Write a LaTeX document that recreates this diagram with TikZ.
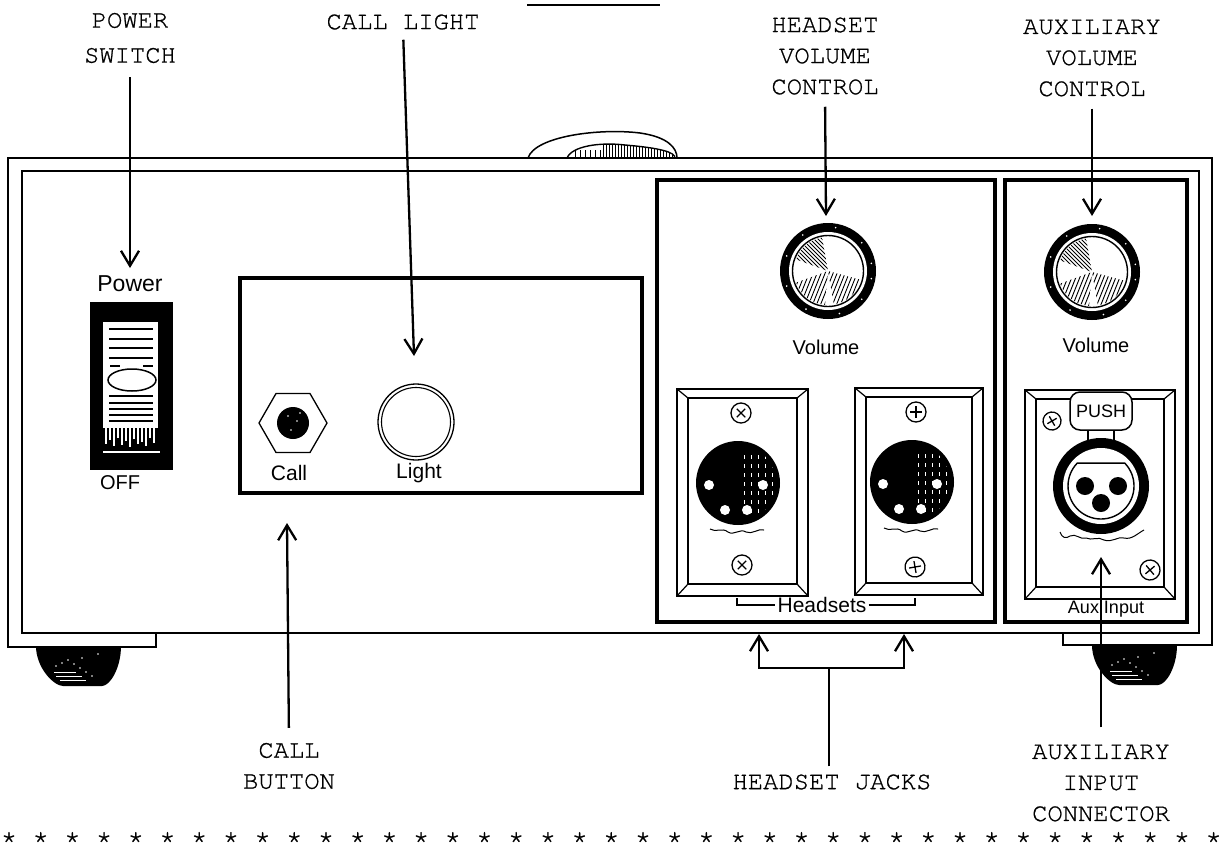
\documentclass[tikz,border=0pt]{standalone}
\usepackage{fontspec}
\newfontfamily\typew[FakeBold=0.8]{TeX Gyre Cursor}
\newfontfamily\handf{Liberation Sans}
\usetikzlibrary{arrows.meta,calc}
\tikzset{
  lbl/.style={font=\typew\fontsize{25.5}{31}\selectfont, align=center, inner sep=0pt},
  hand/.style={font=\handf\fontsize{#1}{#1}\selectfont, inner sep=0pt},
  hand/.default=19,
  arr/.style={line width=2.3pt, -{Straight Barb[length=15pt,width=18pt]}},
  frame/.style={line width=1.8pt},
  panel/.style={line width=3.2pt},
  plateline/.style={line width=1.8pt},
  starmark/.style={font=\typew\fontsize{28}{28}\selectfont, inner sep=0pt, anchor=base},
  knob/.pic={
    \fill[black] (0,0) circle[radius=48];
    \fill[white] (0,0) circle[radius=39];
    \draw[line width=1.4pt] (0,0) circle[radius=35.5];
    \foreach \a in {10,40,75,120,160,200,235,280,320,350}{\fill[white] (\a:44) circle[radius=0.9];}
    \begin{scope}
      \clip (0,0) -- (-100:34) arc[start angle=-100,end angle=-160,radius=34] -- cycle;
      \foreach \k in {-50,-46,...,50}{\draw[line width=0.9pt] (\k-40,-40) -- ++(80,80);}
    \end{scope}
    \begin{scope}
      \clip (0,0) -- (95:34) arc[start angle=95,end angle=160,radius=34] -- cycle;
      \foreach \k in {-50,-46,...,50}{\draw[line width=0.9pt] (\k+16,-40) -- (\k-16,40);}
    \end{scope}
    \begin{scope}
      \clip (0,0) -- (15:34) arc[start angle=15,end angle=80,radius=34] -- cycle;
      \foreach \k in {-50,-46,...,50}{\draw[line width=0.9pt] (\k+16,-40) -- (\k-16,40);}
    \end{scope}
  },
  xlrm/.pic={
    \fill[black] (0,0) circle[radius=42];
    \begin{scope}
      \clip (0,0) circle[radius=38];
      \foreach \x in {6,13,...,34}{\draw[white, line width=0.4pt, dash pattern=on 4pt off 5pt] (\x,-28) -- (\x,30);}
    \end{scope}
    \foreach \p in {(-29,2),(25,2),(-13,27),(9,27)}{\fill[white] \p circle[radius=5];}
    \draw[line width=1pt] (-28,46) .. controls (-22,50) and (-16,44) .. (-10,49) .. controls (-4,53) and (2,45) .. (8,49) .. controls (14,52) and (20,45) .. (26,47);
  },
  screwx/.pic={
    \draw[line width=1.3pt, fill=white] (0,0) circle[radius=10];
    \draw[line width=1.3pt] (-6,0) -- (6,0) (0,-6) -- (0,6);
  },
  foot/.pic={
    \fill[black] (0,0) -- (85,0) .. controls (85,22) and (74,40) .. (66,40) -- (27,40) .. controls (18,40) and (0,22) .. (0,0) -- cycle;
    \draw[white, line width=1pt] (18,26) -- (40,26) (20,30) -- (46,30) (24,34) -- (50,34);
    \foreach \p in {(20,20),(26,17),(32,14),(38,18),(44,22),(50,26),(56,30),(46,12),(62,8)}{\fill[white] \p circle[radius=0.9];}
  }
}
\newcommand\jackplate[4]{%
  \draw[plateline] (#1,#2) rectangle (#3,#4);
  \draw[plateline] (#1+11,#2+9) rectangle (#3-11,#4-12);
  \draw[line width=1.2pt] (#1,#2) -- (#1+11,#2+9) (#3,#2) -- (#3-11,#2+9)
     (#1,#4) -- (#1+11,#4-12) (#3,#4) -- (#3-11,#4-12);
}
\begin{document}
\begin{tikzpicture}[x=1pt,y=-1pt]
\useasboundingbox (0,0) rectangle (1223,852);
\fill[white] (0,0) rectangle (1223,852);

% short rule at top
\draw[line width=1.6pt] (527,5) -- (660,5);

% dome on top
\draw[line width=1.5pt] (528,158) .. controls (535,136) and (600,128) .. (640,133) .. controls (668,137) and (677,148) .. (677,158);
\begin{scope}
  \clip (567,158) .. controls (572,146) and (600,142) .. (625,145) .. controls (660,148) and (675,152) .. (675,158) -- cycle;
  \foreach \x in {575,580,...,600}{\draw[line width=0.8pt] (\x,158) -- (\x,150);}
  \foreach \x in {603,606,...,672}{\draw[line width=0.9pt] (\x,158) -- (\x,141);}
\end{scope}
\draw[line width=1.4pt] (567,158) .. controls (572,146) and (600,142) .. (625,145) .. controls (660,148) and (675,152) .. (675,158);

% feet
\pic at (36,646) {foot};
\pic at (1092,645) {foot};

% cabinet frame
\draw[frame] (156,633) -- (156,647) -- (8,647) -- (8,158) -- (1212,158) -- (1212,645) -- (1063,645) -- (1063,633);
\draw[frame] (22,171) rectangle (1199,633);

% power switch
\fill[black] (90,302) rectangle (173,470);
\fill[white] (103,322) rectangle (158,428);
\foreach \y in {329,339,348,358}{\draw[line width=1.6pt] (109,\y) -- (153,\y);}
\draw[line width=1.4pt] (110,366) -- (120,366) (143,366) -- (153,366);
\foreach \y in {396,403,409,415,421}{\draw[line width=1.6pt] (109,\y) -- (153,\y);}
\draw[line width=1.5pt, fill=white] (132,380) ellipse[x radius=24, y radius=11];
\foreach \x/\l in {106/444,110/440,114/446,118/438,122/445,126/441,130/447,134/439,138/444,142/442,146/446,150/438,154/443}{\draw[white, line width=2.2pt] (\x,426) -- (\x,\l);}
\draw[white, line width=2pt] (103,452) -- (160,452);

% call panel
\draw[panel] (240,278) rectangle (642,493);
\draw[line width=1.3pt] (259,423) -- (276,393.5) -- (310,393.5) -- (327,423) -- (310,452.5) -- (276,452.5) -- cycle;
\fill[black] (293,423) circle[radius=16];
\foreach \p in {(288,416),(297,421),(291,430),(300,413)}{\fill[white] \p circle[radius=0.8];}
\draw[line width=1.3pt] (416,422) circle[radius=38];
\draw[line width=1.1pt] (416,422) circle[radius=34.5];

% headset and aux panels
\draw[panel] (657,180) rectangle (995,622);
\draw[panel] (1005,180) rectangle (1187,622);
\pic at (828,271) {knob};
\pic at (1092,272) {knob};

% headset jack plates
\jackplate{677}{389}{808}{596}
\jackplate{855}{388}{983}{595}
\pic[rotate=45] at (741,413) {screwx};
\pic[rotate=45] at (742,565) {screwx};
\pic at (916,412) {screwx};
\pic[rotate=10] at (915,567) {screwx};
\pic at (738,483) {xlrm};
\pic at (912,482) {xlrm};

% aux plate and female connector
\jackplate{1025}{390}{1175}{599}
\pic[rotate=30, scale=0.9] at (1052,421) {screwx};
\pic[rotate=40] at (1150,570) {screwx};
\draw[line width=1.5pt] (1088,428) -- (1088,442) (1114,428) -- (1114,442);
\draw[line width=1.5pt, fill=white, rounded corners=10pt] (1070,392) rectangle (1132,430);
\fill[black] (1101,486) circle[radius=48];
\fill[white] (1101,486) circle[radius=38];
\draw[line width=1.4pt] ($(1101,486)+(-44:33)$) arc[start angle=-44, end angle=224, radius=33] -- cycle;
\foreach \p in {(1085,486),(1118,486),(1101,503)}{\fill[black] \p circle[radius=9];}
\draw[line width=1pt] (1060,532) .. controls (1062,538) and (1066,539) .. (1070,536) .. controls (1076,533) and (1080,540) .. (1086,538) .. controls (1092,541) and (1098,536) .. (1104,540) .. controls (1112,543) and (1118,536) .. (1124,538) .. controls (1132,540) and (1138,533) .. (1144,530);

% hand lettered labels
\node[hand=23] (pwr) at (130,284) {Power};
\node[hand=20] (off) at (120,483) {OFF};
\node[hand=21] (call) at (289,473) {Call};
\node[hand=21] (light) at (419,473) {Light};
\node[hand=20] (vol1) at (826,347) {Volume};
\node[hand=20] (vol2) at (1096,345) {Volume};
\node[hand=18] (push) at (1101,411) {PUSH};
\node[hand=21] (hs) at (822,605) {Headsets};
\node[hand=18] (aux) at (1106,609) {Aux Input};
\coordinate (hsL) at (737,598);
\coordinate (hsR) at (915,598);
\draw[line width=1.1pt] (hsL) |- ([xshift=-2pt]hs.west);
\draw[line width=1.1pt] ([xshift=2pt]hs.east) -| (hsR);

% typewriter callouts
\node[lbl, font=\typew\fontsize{25.5}{35}\selectfont] (psw) at (130,38) {POWER\\SWITCH};
\node[lbl] (cl) at (403,22) {CALL LIGHT};
\node[lbl] (hvc) at (825,56) {HEADSET\\VOLUME\\CONTROL};
\node[lbl] (avc) at (1092,58) {AUXILIARY\\VOLUME\\CONTROL};
\node[lbl] (cb) at (289,766) {CALL\\BUTTON};
\node[lbl] (hj) at (832,782) {HEADSET JACKS};
\node[lbl] (aic) at (1101,783) {AUXILIARY\\INPUT\\CONNECTOR};

\coordinate (pwrtip) at (130,268);
\coordinate (lighttip) at (414,356);
\coordinate (hvtip) at (826,216);
\coordinate (avtip) at (1092,216);
\coordinate (cbtip) at (287,523);
\coordinate (aitip) at (1101,557);
\coordinate (hjbar) at (829,668);
\coordinate (hjl) at (759,634);
\coordinate (hjr) at (904,634);

\draw[arr, shorten <=14pt] (psw.south) -- (pwrtip);
\draw[arr, shorten <=10pt] (cl.south) -- (lighttip);
\draw[arr, shorten <=12pt] (hvc.south) -- (hvtip);
\draw[arr, shorten <=12pt] (avc.south) -- (avtip);
\draw[arr, shorten <=15pt] (cb.north) -- (cbtip);
\draw[arr, shorten <=17pt] (aic.north) -- (aitip);
\draw[line width=2.3pt, shorten <=8pt] (hj.north -| hjbar) -- (hjbar);
\draw[arr] (hjbar) -| (hjl);
\draw[arr] (hjbar) -| (hjr);

% row of stars
\foreach \i in {0,...,38}{\node[starmark] (st\i) at ({9+31.7*\i},849) {*};}
\end{tikzpicture}
\end{document}
